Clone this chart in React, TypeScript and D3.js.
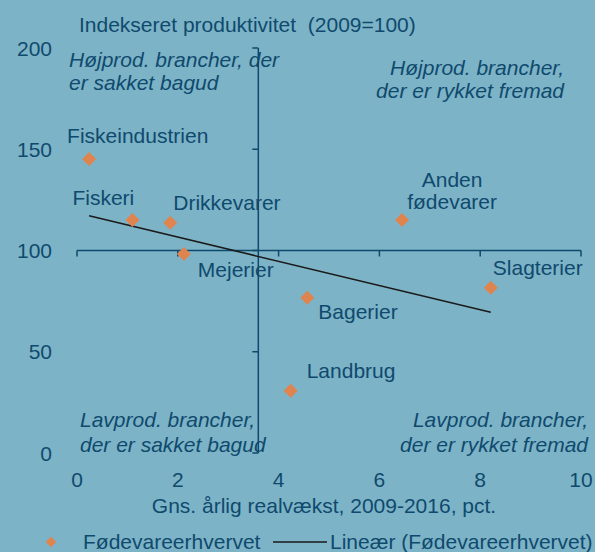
import React from 'react';
import * as d3 from 'd3';

// branch data: annual real growth 2009-2016 (pct) vs productivity index (2009=100)
const branches = ['Fiskeindustrien', 'Fiskeri', 'Drikkevarer', 'Mejerier', 'Anden fødevarer', 'Slagterier', 'Bagerier', 'Landbrug'];
const growth = [0.24, 1.1, 1.85, 2.12, 6.45, 8.21, 4.57, 4.24];
const productivity = [145.2, 115.1, 113.7, 98.3, 115.1, 81.6, 76.7, 30.8];

const xTicks = [0, 2, 4, 6, 8, 10];
const yTicks = [0, 50, 100, 150, 200];

const width = 595;
const height = 552;
const bg = '#7db3c6';
const ink = '#0f4a6e';
const orange = '#e0844f';
const font = '"Liberation Sans", Arial, sans-serif';
const fs = 21;

// label placement relative to each point (dx, dy, anchor)
const labelPos: Record<string, [number, number, string]> = {
    'Fiskeindustrien': [-22, -16, 'start'],
    'Fiskeri': [-60, -15, 'start'],
    'Drikkevarer': [3, -13, 'start'],
    'Mejerier': [14, 23, 'start'],
    'Anden fødevarer': [50, -33, 'middle'],
    'Slagterier': [2, -13, 'start'],
    'Bagerier': [11, 21, 'start'],
    'Landbrug': [16, -13, 'start'],
};

const App = () => {
    const x = d3.scaleLinear().domain([0, 10]).range([77, 581]);
    const y = d3.scaleLinear().domain([0, 200]).range([453, 48]);

    const pts = growth.map((g, i) => ({ name: branches[i], gx: g, py: productivity[i] }));
    const xMean = d3.mean(growth) as number;
    const yMean = d3.mean(productivity) as number;
    const sxy = d3.sum(pts, d => (d.gx - xMean) * (d.py - yMean));
    const sxx = d3.sum(pts, d => (d.gx - xMean) ** 2);
    const slope = sxy / sxx;
    const icpt = yMean - slope * xMean;
    const [xmin, xmax] = d3.extent(growth) as [number, number];
    const trend = d3.line<number>().x(d => x(d)).y(d => y(icpt + slope * d))([xmin, xmax]);

    const diamond = d3.symbol().type(d3.symbolSquare).size(98)() as string;
    const smallDiamond = d3.symbol().type(d3.symbolSquare).size(55)() as string;

    const yAxisX = x(xMean);

    return (
        <svg width={width} height={height} style={{ position: 'absolute', left: 0, top: 0, background: bg }}
            fontFamily={font} fontSize={fs} fill={ink}>
            <rect width={width} height={height} fill={bg} />

            <text x={79} y={32} xmlSpace="preserve">Indekseret produktivitet  (2009=100)</text>

            {/* quadrant labels */}
            <g fontStyle="italic">
                <text x={69} y={67}>Højprod. brancher, der</text>
                <text x={69} y={90}>er sakket bagud</text>
                <text x={564} y={75} textAnchor="end">Højprod. brancher,</text>
                <text x={564} y={98} textAnchor="end">der er rykket fremad</text>
                <text x={80} y={427}>Lavprod. brancher,</text>
                <text x={80} y={452}>der er sakket bagud</text>
                <text x={588} y={427} textAnchor="end">Lavprod. brancher,</text>
                <text x={588} y={452} textAnchor="end">der er rykket fremad</text>
            </g>

            {/* x axis sits at index 100, y axis at mean growth */}
            <g stroke={ink} strokeWidth={1.5} fill="none">
                <line x1={x(0)} x2={x(10)} y1={y(100)} y2={y(100)} />
                {xTicks.map(t => <line key={t} x1={x(t)} x2={x(t)} y1={y(100)} y2={y(100) + 6} />)}
                <line x1={yAxisX} x2={yAxisX} y1={y(0)} y2={y(200)} />
                {yTicks.map(t => <line key={t} x1={yAxisX - 6} x2={yAxisX} y1={y(t)} y2={y(t)} />)}
            </g>

            {xTicks.map(t => <text key={t} x={x(t)} y={487} textAnchor="middle">{t}</text>)}
            {yTicks.map(t => <text key={t} x={52} y={y(t)} dy="0.36em" textAnchor="end">{t}</text>)}

            <text x={324} y={513} textAnchor="middle">Gns. årlig realvækst, 2009-2016, pct.</text>

            <path d={trend ?? ''} stroke="#1a1a1a" strokeWidth={1.5} fill="none" />

            {pts.map(d => (
                <path key={d.name} d={diamond} fill={orange}
                    transform={`translate(${x(d.gx)},${y(d.py)}) rotate(45)`} />
            ))}

            {pts.map(d => {
                const [dx, dy, anchor] = labelPos[d.name];
                const px = x(d.gx) + dx;
                const py = y(d.py) + dy;
                if (d.name === 'Anden fødevarer') {
                    return (
                        <text key={d.name} x={px} y={py} textAnchor={anchor}>
                            <tspan x={px}>Anden</tspan>
                            <tspan x={px} dy={22}>fødevarer</tspan>
                        </text>
                    );
                }
                return <text key={d.name} x={px} y={py} textAnchor={anchor}>{d.name}</text>;
            })}

            {/* legend */}
            <path d={smallDiamond} fill={orange} transform="translate(51,542) rotate(45)" />
            <text x={83} y={549}>Fødevareerhvervet</text>
            <line x1={273} x2={327} y1={542} y2={542} stroke="#1a1a1a" strokeWidth={1.5} />
            <text x={330} y={549}>Lineær (Fødevareerhvervet)</text>
        </svg>
    );
};

export default App;
